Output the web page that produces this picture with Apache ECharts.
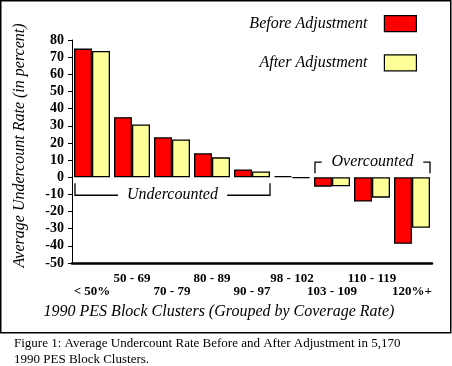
<!DOCTYPE html>
<html><head><meta charset="utf-8">
<script src="https://cdn.jsdelivr.net/npm/echarts@6/dist/echarts.min.js"></script>
<style>html,body{margin:0;padding:0;background:#fff}#c{width:452px;height:366px}</style>
</head><body><div id="c"></div>
<script>
const categories = ['< 50%', '50 - 69', '70 - 79', '80 - 89', '90 - 97', '98 - 102', '103 - 109', '110 - 119', '120%+'];
const beforeAdj = [75, 35, 23.3, 14, 4.5, 0.6, -5.5, -14.2, -38.8];
const afterAdj = [73.6, 30.8, 22, 11.6, 3.3, -0.4, -5.3, -11.9, -29.5];
const seriesNames = ['Before Adjustment', 'After Adjustment'];
const yMin = -50, yMax = 80, yStep = 10;
const yTitle = 'Average Undercount Rate (in percent)';
const xTitle = '1990 PES Block Clusters (Grouped by Coverage Rate)';
const caption = 'Figure 1: Average Undercount Rate Before and After Adjustment in 5,170\n1990 PES Block Clusters.';
const underLabel = 'Undercounted';
const overLabel = 'Overcounted';

const SERIF = '"Liberation Serif", "Times New Roman", serif';
const chart = echarts.init(document.getElementById('c'), null, {renderer: 'canvas'});
const option = {
  animation: false,
  backgroundColor: '#fff',
  grid: {left: 72, right: 20, top: 40, bottom: 103, containLabel: false},
  legend: {
    data: seriesNames,
    orient: 'vertical', align: 'right', right: 35, top: 15, padding: 0,
    itemWidth: 32, itemHeight: 16, itemGap: 22, icon: 'rect',
    itemStyle: {borderColor: '#000', borderWidth: 1.2},
    textStyle: {fontFamily: SERIF, fontStyle: 'italic', fontSize: 16, color: '#000', padding: [0, 12, 0, 0]}
  },
  xAxis: {
    type: 'category', data: categories, position: 'bottom',
    axisLine: {onZero: false, lineStyle: {color: '#000', width: 2.5}},
    axisTick: {alignWithLabel: true, length: 7, lineStyle: {color: '#000', width: 1.5}},
    axisLabel: {
      interval: 0, margin: 9, fontFamily: SERIF, fontWeight: 'bold', fontSize: 13, color: '#000', lineHeight: 13,
      formatter: (v, i) => (i % 2 === 0 ? '\n' + v : v)
    },
    splitLine: {show: false}
  },
  yAxis: {
    type: 'value', min: yMin, max: yMax, interval: yStep,
    axisLine: {show: true, lineStyle: {color: '#000', width: 1}},
    axisTick: {show: true, length: 4, lineStyle: {color: '#000'}},
    axisLabel: {fontFamily: SERIF, fontWeight: 'bold', fontSize: 14, color: '#000', margin: 8},
    splitLine: {show: false}
  },
  series: [
    {name: seriesNames[0], type: 'bar', data: beforeAdj, barWidth: 18, barGap: '0%',
     itemStyle: {color: '#ff0000', borderColor: '#000', borderWidth: 1.3}},
    {name: seriesNames[1], type: 'bar', data: afterAdj, barWidth: 18, barGap: '0%',
     itemStyle: {color: '#ffff99', borderColor: '#000', borderWidth: 1.3}}
  ]
};
chart.setOption(option);

const px = (c, v) => chart.convertToPixel({gridIndex: 0}, [c, v]);
const half = 18;
function bracket(c0, c1, yTopV, yBotV, up, label) {
  const xl = px(c0, 0)[0] - half + 1, xr = px(c1, 0)[0] + half;
  const yA = px(0, yTopV)[1], yB = px(0, yBotV)[1];
  const yLine = up ? yA : yB, yEnd = up ? yB : yA;
  const xm = (xl + xr) / 2;
  const tw = label.length * 7.6 / 2 + 9;
  const ls = {stroke: '#000', lineWidth: 1.3};
  return [
    {type: 'polyline', shape: {points: [[xl, yEnd], [xl, yLine], [xm - tw, yLine]]}, style: Object.assign({fill: null}, ls)},
    {type: 'polyline', shape: {points: [[xm + tw, yLine], [xr, yLine], [xr, yEnd]]}, style: Object.assign({fill: null}, ls)},
    {type: 'text', x: xm, y: yLine, style: {text: label, fontFamily: SERIF, fontStyle: 'italic', fontSize: 16, fill: '#000', align: 'center', verticalAlign: 'middle'}}
  ];
}
const yMid = (px(0, yMax)[1] + px(0, yMin)[1]) / 2;
const graphics = [
  {type: 'rect', shape: {x: 0.75, y: 0.75, width: 450, height: 332}, style: {fill: null, stroke: '#000', lineWidth: 1.5}, silent: true},
  {type: 'text', x: 20, y: yMid - 6, rotation: Math.PI / 2,
   style: {text: yTitle, fontFamily: SERIF, fontStyle: 'italic', fontSize: 16, fill: '#000', align: 'center', verticalAlign: 'middle'}},
  {type: 'text', x: 219, y: 312,
   style: {text: xTitle, fontFamily: SERIF, fontStyle: 'italic', fontSize: 16, fill: '#000', align: 'center', verticalAlign: 'middle'}},
  {type: 'text', x: 14, y: 336,
   style: {text: caption, fontFamily: SERIF, fontSize: 13, lineHeight: 16, fill: '#000', align: 'left', verticalAlign: 'top'}}
].concat(bracket(0, 4, -3.5, -10.5, false, underLabel), bracket(6, 8, 8.8, 2.3, true, overLabel));
chart.setOption({graphic: graphics});
</script>
</body></html>
